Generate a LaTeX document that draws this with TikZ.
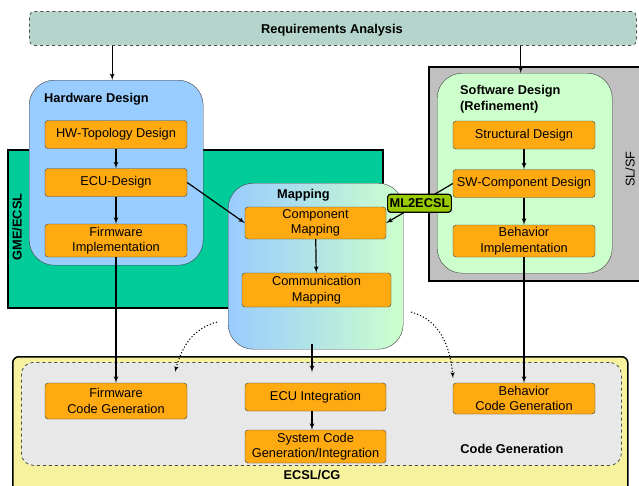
\documentclass[tikz,border=0pt]{standalone}
\usepackage{fontspec}
\setmainfont{Liberation Sans}
\usetikzlibrary{shapes,arrows}
\definecolor{reqfill}{RGB}{180,212,204}
\definecolor{gmegreen}{RGB}{0,204,153}
\definecolor{slsfgray}{RGB}{192,192,192}
\definecolor{hwblue}{RGB}{153,204,255}
\definecolor{swgreen}{RGB}{204,255,204}
\definecolor{taskorange}{RGB}{255,170,17}
\definecolor{cgyellow}{RGB}{247,242,158}
\definecolor{cggray}{RGB}{232,232,232}
\definecolor{mlgreen}{RGB}{153,204,0}

\begin{document}
\begin{tikzpicture}[x=1pt,y=-1pt,
    font=\fontsize{12.8}{15.4}\selectfont,
    block_task/.style ={rectangle, draw=black!75, fill=taskorange, rounded corners=3pt,
      align=center, minimum width=142pt, minimum height=28pt, inner sep=1pt},
    block_group/.style ={rectangle, draw=black!75, rounded corners=25pt,
      anchor=north west, inner sep=0pt},
    block_frame/.style ={rectangle, draw=black, line width=1.5pt,
      anchor=north west, inner sep=0pt},
    block_title/.style ={font=\fontsize{12.8}{16}\selectfont\bfseries, inner sep=0pt},
    block_label/.style ={rectangle, draw=black, line width=1.2pt, fill=mlgreen,
      rounded corners=3pt, font=\fontsize{12.8}{15.4}\selectfont\bfseries,
      inner sep=2pt, minimum height=18pt},
      line/.style ={draw, line width=1.2pt, -latex', shorten >=0pt}]
    \useasboundingbox (0,0) rectangle (639,485);
    % tool frames
    \node [block_frame, dashed, draw=black!70, line width=0.8pt, fill=reqfill,
      rounded corners=5pt, minimum width=607pt, minimum height=34pt] (req) at (29,11) {};
    \node [block_frame, fill=gmegreen, minimum width=375pt, minimum height=158pt] (gme) at (7,149) {};
    \node [block_frame, fill=slsfgray, minimum width=232pt, minimum height=214pt] (slsf) at (428,66) {};
    \node [block_frame, fill=cgyellow, rounded corners=6pt,
      minimum width=615pt, minimum height=144pt] (ecslcg) at (12,356) {};
    \node [block_frame, dashed, draw=black!70, line width=0.8pt, fill=cggray,
      rounded corners=12pt, minimum width=600pt, minimum height=103pt] (codegen) at (21,362) {};
    % design phases
    \node [block_group, fill=hwblue, minimum width=174pt, minimum height=185pt] (hw) at (29,80) {};
    \node [block_group, fill=swgreen, minimum width=175pt, minimum height=200pt] (sw) at (437,73) {};
    \node [block_group, left color=hwblue, right color=swgreen,
      minimum width=175pt, minimum height=166pt] (mapping) at (228,183) {};
    % titles
    \node [block_title, anchor=base] (req_title) at (332,33) {Requirements Analysis};
    \node [block_title, anchor=base west] (hw_title) at (44,102) {Hardware Design};
    \node [block_title, anchor=north west, align=left] (sw_title) at (460,85) {Software Design\\(Refinement)};
    \node [block_title, anchor=base] (map_title) at (303.5,198) {Mapping};
    \node [block_title, anchor=base] (cg_title) at (512,453) {Code Generation};
    \node [block_title, anchor=base] (ecslcg_title) at (312,479) {ECSL/CG};
    \node [block_title, rotate=90] (gme_title) at (17,227) {GME/ECSL};
    \node [rotate=90, inner sep=0pt] (slsf_title) at (630,169) {SL/SF};
    % hardware column
    \node [block_task] (hwtopo) at (116,134.5) {HW-Topology Design};
    \node [block_task] (ecudesign) at (116,182.5) {ECU-Design};
    \node [block_task, minimum height=33pt] (fwimpl) at (116,240.5) {Firmware\\Implementation};
    % mapping column
    \node [block_task, minimum width=141pt, minimum height=32pt] (compmap) at (315.5,223) {Component\\Mapping};
    \node [block_task, minimum width=149pt, minimum height=34pt] (commmap) at (316.5,290) {Communication\\Mapping};
    % software column
    \node [block_task] (structural) at (524,135) {Structural Design};
    \node [block_task] (swcomp) at (524,183.5) {SW-Component Design};
    \node [block_task, minimum height=32pt] (behimpl) at (524,241) {Behavior\\Implementation};
    % code generation row
    \node [block_task, minimum height=36pt] (fwcode) at (116,401) {Firmware\\Code Generation};
    \node [block_task, minimum width=141pt] (ecuint) at (315.5,397) {ECU Integration};
    \node [block_task, minimum width=141pt, minimum height=33pt] (syscode) at (315.5,446.5) {System Code\\Generation/Integration};
    \node [block_task, minimum height=31pt] (behcode) at (524,398.5) {Behavior\\Code Generation};
    % free ends
    \coordinate (cg_in) at (312,372);
    \coordinate (dot_l_start) at (217,322);
    \coordinate (dot_l_end) at (175,372);
    \coordinate (dot_r_start) at (411,312);
    \coordinate (dot_r_end) at (453,378);
    % connecting nodes with paths
    \begin{scope}[every path/.style=line]
     \path ([xshift=-4pt]hw.north |- req.south) -- ([xshift=-4pt]hw.north);
     \path ([xshift=-4pt]sw.north |- req.south) -- ([xshift=-4pt]sw.north);
     \path (hwtopo) -- (ecudesign);
     \path (ecudesign) -- (fwimpl);
     \path (fwimpl) -- (fwcode);
     \path (structural) -- (swcomp);
     \path (swcomp) -- (behimpl);
     \path (behimpl) -- (behcode);
     \path (ecudesign.east) -- (compmap.west);
     \path (compmap) -- (commmap);
     \path ([yshift=5pt]mapping.south -| cg_in) -- (cg_in);
     \path (ecuint.south -| cg_in) -- (syscode.north -| cg_in);
     \path [dotted, line width=1pt] (dot_l_start) to[out=195,in=75] (dot_l_end);
     \path [dotted, line width=1pt] (dot_r_start) to[out=-15,in=95] (dot_r_end);
    \end{scope}
    \draw [line] (swcomp.west) -- node [block_label] (ml2ecsl) {ML2ECSL} (compmap.east);
  \end{tikzpicture}
\end{document}
